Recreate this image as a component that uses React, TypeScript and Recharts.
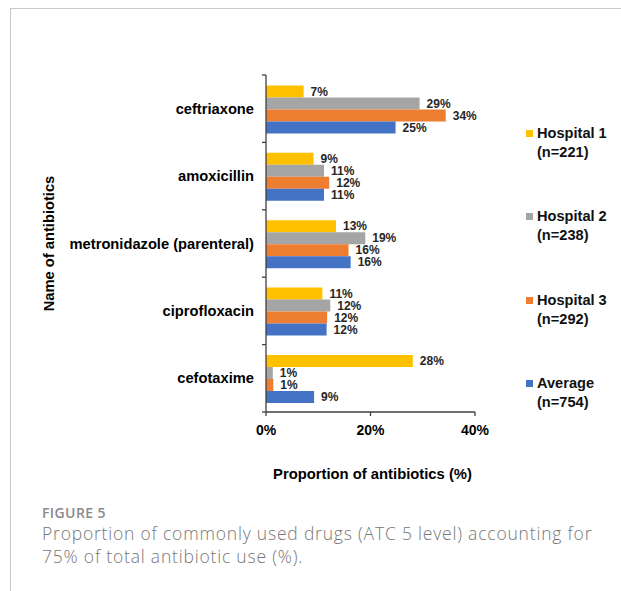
import React from "react";
import { BarChart, Bar, XAxis, YAxis, LabelList, Legend } from "recharts";

const categories = ["ceftriaxone", "amoxicillin", "metronidazole (parenteral)", "ciprofloxacin", "cefotaxime"];
const hospital1 = [7.2, 9.1, 13.4, 10.8, 28.1];
const hospital2 = [29.4, 11.1, 19.0, 12.3, 1.3];
const hospital3 = [34.4, 12.1, 15.8, 11.7, 1.4];
const average = [24.8, 11.1, 16.2, 11.6, 9.2];
const seriesKeys = ["h1", "h2", "h3", "avg"];
const seriesNames = ["Hospital 1", "Hospital 2", "Hospital 3", "Average"];
const seriesN = ["(n=221)", "(n=238)", "(n=292)", "(n=754)"];
const seriesColors = ["#FFC000", "#A5A5A5", "#ED7D31", "#4472C4"];
const xTicks = [0, 20, 40];

const data = categories.map((name, i) => ({
  name,
  h1: hospital1[i],
  h2: hospital2[i],
  h3: hospital3[i],
  avg: average[i],
}));

const FONT = "'Liberation Sans', Arial, sans-serif";
const AXIS_COLOR = "#404040";

const YTick = (props: any) => {
  const { x, y, payload, index, visibleTicksCount } = props;
  const half = payload && payload.offset ? payload.offset : 33.7;
  const axisX = x + 12;
  return (
    <g>
      <text x={x} y={y} textAnchor="end" dominantBaseline="central" fontFamily={FONT} fontSize={14.7} fontWeight="bold" fill="#000">
        {payload.value}
      </text>
      <line x1={axisX - 4} x2={axisX} y1={y - half} y2={y - half} stroke={AXIS_COLOR} strokeWidth={1.3} />
      {index === (visibleTicksCount ?? categories.length) - 1 ? (
        <line x1={axisX - 4} x2={axisX} y1={y + half} y2={y + half} stroke={AXIS_COLOR} strokeWidth={1.3} />
      ) : null}
    </g>
  );
};

const renderLegend = (props: any) => {
  const payload = props.payload || [];
  return (
    <div style={{ fontFamily: FONT, fontWeight: "bold", fontSize: 14.6, color: "#111" }}>
      {seriesNames.map((name, i) => {
        const item = payload.find((p: any) => p.value === name);
        const color = item && item.color ? item.color : seriesColors[i];
        return (
          <div key={name} style={{ position: "relative", height: 38.8, marginBottom: 44.7, lineHeight: "19.4px" }}>
            <span style={{ position: "absolute", left: 1, top: 6, width: 7, height: 7, background: color }} />
            <div style={{ paddingLeft: 12, whiteSpace: "nowrap" }}>{name}</div>
            <div style={{ paddingLeft: 12, whiteSpace: "nowrap" }}>{seriesN[i]}</div>
          </div>
        );
      })}
    </div>
  );
};

export default function App() {
  return (
    <div style={{ position: "absolute", left: 0, top: 0, width: 621, height: 591, background: "#fff", overflow: "hidden" }}>
      <div style={{ position: "absolute", left: 10, top: 8, right: 0, bottom: 0, borderTop: "1.5px solid #c9c9c9", borderLeft: "1.5px solid #c9c9c9" }} />
      <div style={{ position: "absolute", left: 0, top: 0 }}>
        <BarChart
          width={621}
          height={500}
          data={data}
          layout="vertical"
          margin={{ top: 75, right: 146, left: 0, bottom: 0 }}
          barCategoryGap="15.4%"
          barGap={0}
        >
          <XAxis
            type="number"
            domain={[0, 40]}
            ticks={xTicks}
            height={88}
            tickFormatter={(v: number) => `${v}%`}
            tick={{ fontFamily: FONT, fontSize: 14, fontWeight: "bold", fill: "#000" }}
            tickSize={4}
            tickMargin={9}
            axisLine={{ stroke: AXIS_COLOR, strokeWidth: 1.3 }}
            tickLine={{ stroke: AXIS_COLOR, strokeWidth: 1.3 }}
            label={{
              content: (lp: any) => {
                const vb = lp.viewBox || { x: 266, y: 412, width: 209 };
                return (
                  <text x={vb.x + vb.width / 2 + 2} y={vb.y + 66.5} textAnchor="middle" fontFamily={FONT} fontSize={14.8} fontWeight="bold" fill="#000">
                    Proportion of antibiotics (%)
                  </text>
                );
              },
            }}
          />
          <YAxis
            type="category"
            dataKey="name"
            width={266}
            tick={<YTick />}
            tickLine={false}
            tickSize={4}
            tickMargin={8}
            interval={0}
            axisLine={{ stroke: AXIS_COLOR, strokeWidth: 1.3 }}
            label={{
              content: (lp: any) => {
                const vb = lp.viewBox || { x: 0, y: 75, height: 337 };
                const cy = vb.y + vb.height / 2;
                return (
                  <text x={48.5} y={cy} transform={`rotate(-90 48.5 ${cy})`} textAnchor="middle" dominantBaseline="central" fontFamily={FONT} fontSize={14.7} fontWeight="bold" fill="#000">
                    Name of antibiotics
                  </text>
                );
              },
            }}
          />
          <Legend
            layout="vertical"
            align="center"
            verticalAlign="middle"
            content={renderLegend}
            wrapperStyle={{ left: 525, top: 123.6, width: 96 }}
          />
          {seriesKeys.map((k, i) => (
            <Bar key={k} dataKey={k} name={seriesNames[i]} fill={seriesColors[i]} isAnimationActive={false}>
              <LabelList
                dataKey={k}
                position="right"
                offset={7}
                formatter={(v: number) => `${Math.round(v)}%`}
                style={{ fontFamily: FONT, fontSize: 12, fontWeight: "bold", fill: "#262626" }}
              />
            </Bar>
          ))}
        </BarChart>
      </div>
      <div style={{ position: "absolute", left: 42, top: 503, fontFamily: "'Open Sans', sans-serif", fontWeight: 600, fontSize: 14, color: "#8a8a8a", letterSpacing: 0.4 }}>
        FIGURE 5
      </div>
      <div style={{ position: "absolute", left: 42, top: 522, width: 579, fontFamily: "'Open Sans', sans-serif", fontWeight: 300, fontSize: 17.5, lineHeight: "23px", color: "#777", letterSpacing: 0.8, whiteSpace: "nowrap" }}>
        Proportion of commonly used drugs (ATC 5 level) accounting for
        <br />
        75% of total antibiotic use (%).
      </div>
    </div>
  );
}
